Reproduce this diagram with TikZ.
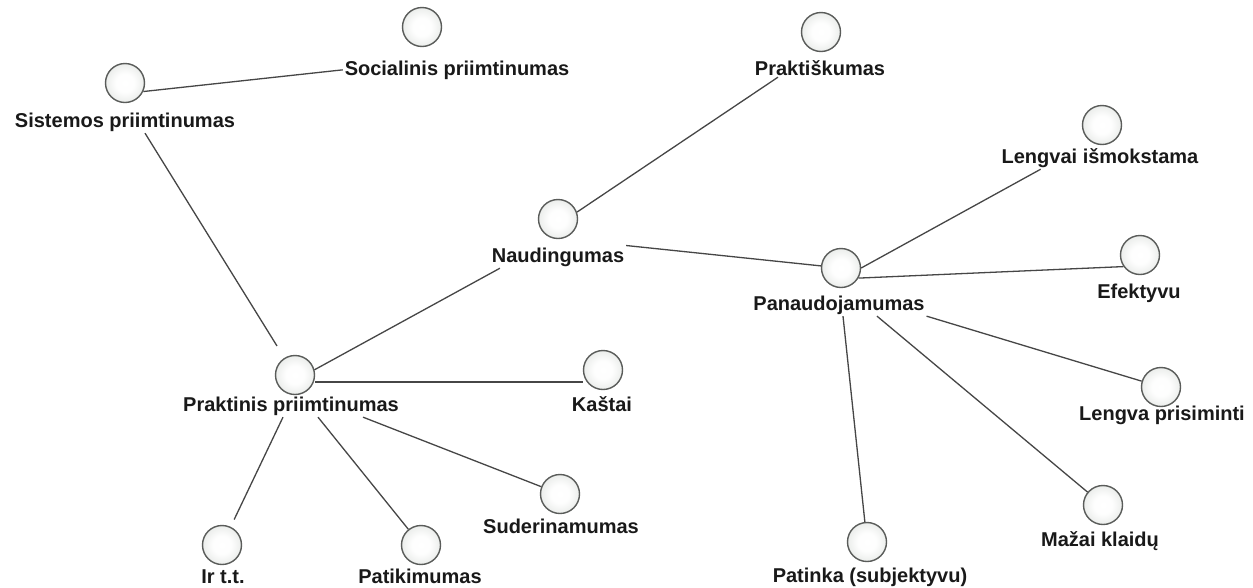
\documentclass[tikz,border=0pt]{standalone}
\usepackage{fontspec}
\setmainfont{Liberation Sans}
\definecolor{ballline}{RGB}{90,92,90}
\definecolor{ballfill}{RGB}{200,206,200}
\definecolor{linkc}{RGB}{70,70,70}
\definecolor{txt}{RGB}{25,25,25}
% soft gradient for the goal circles: white core, light grey rim
\pgfdeclareradialshading{ballshade}{\pgfpoint{0bp}{0bp}}{%
  color(0bp)=(white); color(12bp)=(white!97!ballfill);
  color(50bp)=(ballfill); color(60bp)=(ballfill)}
\begin{document}
\begin{tikzpicture}[x=1pt,y=-1pt,
  ball/.style={circle, minimum size=39pt, inner sep=0pt, draw=ballline, line width=1.4pt,
    shading=ballshade},
  lbl/.style={anchor=base, inner sep=0pt, outer sep=2pt,
    font=\fontsize{20}{24}\selectfont\bfseries, text=txt},
  link/.style={draw=linkc, line width=1.3pt}]
\useasboundingbox[fill=white] (0,0) rectangle (1253,587);

% goals
\node[ball] (sisC) at (125,83) {};
\node[lbl] (sisL) at (125,127) {Sistemos priimtinumas};
\node[ball] (socC) at (422,27) {};
\node[lbl] (socL) at (457,75) {Socialinis priimtinumas};
\node[ball] (pkmC) at (821,32) {};
\node[lbl] (pkmL) at (820,75) {Praktiškumas};
\node[ball] (livC) at (1102,125) {};
\node[lbl] (livL) at (1100,163) {Lengvai išmokstama};
\node[ball] (naudC) at (558,219) {};
\node[lbl] (naudL) at (558,262) {Naudingumas};
\node[ball] (panC) at (841,268) {};
\node[lbl] (panL) at (839,310) {Panaudojamumas};
\node[ball] (efC) at (1140,255) {};
\node[lbl] (efL) at (1139,298) {Efektyvu};
\node[ball] (prakC) at (295,375) {};
\node[lbl] (prakL) at (291,411) {Praktinis priimtinumas};
\node[ball] (kasC) at (603,370) {};
\node[lbl] (kasL) at (602,411) {Kaštai};
\node[ball] (lpC) at (1161,387) {};
\node[lbl] (lpL) at (1162,420) {Lengva prisiminti};
\node[ball] (sudC) at (560,494) {};
\node[lbl] (sudL) at (561,533) {Suderinamumas};
\node[ball] (mkC) at (1103,505) {};
\node[lbl] (mkL) at (1100,546) {Mažai klaidų};
\node[ball] (irC) at (222,545) {};
\node[lbl] (irL) at (223,583) {Ir t.t.};
\node[ball] (ptkC) at (421,545) {};
\node[lbl] (ptkL) at (420,583) {Patikimumas};
\node[ball] (patC) at (867,542) {};
\node[lbl] (patL) at (870,582) {Patinka (subjektyvu)};

% links
\draw[link] (sisC.-25) -- (socL.west);
\draw[link, shorten >=14pt] ([xshift=20pt]sisL.south) -- (prakC);
\draw[link] (prakC.15) -- ([xshift=10pt]naudL.south west);
\draw[link] ([yshift=-7pt]prakC.east) -- ([yshift=-7pt]prakC.east -| kasC.west);
\draw[link, shorten >=8pt] ([xshift=-8pt]prakL.south) -- (irC);
\draw[link] ([xshift=27pt]prakL.south) -- (ptkC);
\draw[link] ([xshift=72pt]prakL.south) -- (sudC);
\draw[link] (naudC.20) -- ([xshift=25pt]pkmL.south west);
\draw[link] (naudL.north east) -- (panC);
\draw[link] (panC.east) -- ([xshift=41pt]livL.south west);
\draw[link] (panC.-30) -- (efC.215);
\draw[link] (panL.south east) -- (lpC);
\draw[link] ([xshift=38pt]panL.south) -- (mkC);
\draw[link] ([xshift=4pt]panL.south) -- (patC);
\end{tikzpicture}
\end{document}
